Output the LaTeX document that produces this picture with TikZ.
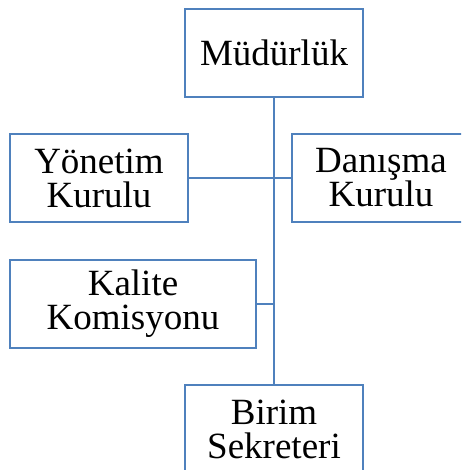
\documentclass[tikz,border=0pt]{standalone}
\usepackage{fontspec}
\setmainfont{Liberation Serif}
\usetikzlibrary{positioning}
\definecolor{orgblue}{RGB}{79,129,189}

\begin{document}
\begin{tikzpicture}[x=1pt,
    y=-1pt,
    box/.style={draw=orgblue, line width=2.6pt, fill=white, align=center,
        minimum width=178pt, minimum height=88pt, inner sep=0pt,
        font=\fontsize{37}{34}\selectfont},
    link/.style={draw=orgblue, line width=2.6pt}]
    \clip (0,0) rectangle (461,470);
    \useasboundingbox (0,0) rectangle (461,470);
    \node[box] (mud) at (274,53) {Müdürlük};
    \node[box] (yon) at (99,178) {Yönetim\\Kurulu};
    \node[box] (dan) at (381,178) {Danışma\\Kurulu};
    \node[box, minimum width=246pt] (kal) at (133,304) {Kalite\\Komisyonu};
    \node[box] (bir) at (274,429) {Birim\\Sekreteri};
    \path[link] (mud) -- (bir)
        (yon.east) -- (yon.east -| mud.south)
        (dan.west) -- (dan.west -| mud.south)
        (kal.east) -- (kal.east -| mud.south);
\end{tikzpicture}
\end{document}
